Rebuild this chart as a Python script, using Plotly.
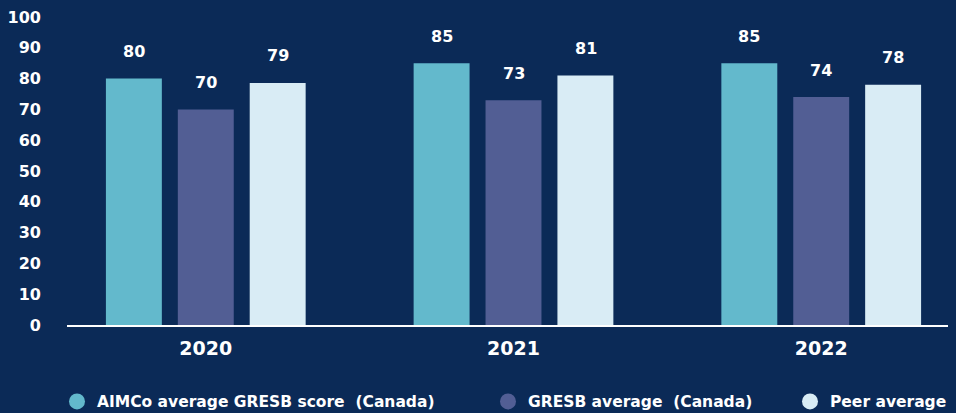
import plotly.graph_objects as go

years = ["2020", "2021", "2022"]
series_names = ["AIMCo average GRESB score  (Canada)", "GRESB average  (Canada)", "Peer average"]
aimco = [80, 85, 85]
gresb = [70, 73, 74]
peer = [78.6, 81, 78]
colors = ["#63B9CC", "#525E94", "#D9ECF5"]

BG = "#0B2A57"
FONT = "DejaVu Sans, Verdana, sans-serif"

fig = go.Figure()
series = [aimco, gresb, peer]
for i, (name, vals) in enumerate(zip(series_names, series)):
    fig.add_trace(go.Bar(
        x=years, y=vals, name=name, marker_color=colors[i], marker_line_width=0,
        showlegend=False,
    ))
    # circle legend entries
    fig.add_trace(go.Scatter(
        x=[None], y=[None], mode="markers", name=name,
        marker=dict(color=colors[i], size=20, symbol="circle"),
        legend=["legend", "legend2", "legend3"][i],
    ))
    # value labels above bars (category index + offset of the bar in its group)
    for j, v in enumerate(vals):
        fig.add_annotation(x=j, y=v, text="%.0f" % v, showarrow=False,
                           xshift=(i - 1) * 72, yshift=27, yanchor="middle",
                           font=dict(color="white", size=16, family=FONT, weight="bold"))

legend_style = dict(orientation="h", yanchor="middle", y=0.027, xref="container", yref="container",
                    font=dict(color="white", size=15.5, family=FONT, weight="bold"),
                    bgcolor="rgba(0,0,0,0)", itemsizing="trace")
fig.update_layout(
    barmode="group", bargap=0.299, bargroupgap=0.222,
    paper_bgcolor=BG, plot_bgcolor=BG,
    width=956, height=413,
    margin=dict(l=66, r=8, t=15, b=88),
    font=dict(family=FONT, color="white"),
    legend=dict(x=57 / 956, **legend_style),
    legend2=dict(x=488 / 956, **legend_style),
    legend3=dict(x=790 / 956, **legend_style),
    xaxis=dict(type="category", range=[-0.451, 2.412], showgrid=False, showline=True,
               linecolor="white", linewidth=2, ticks="",
               tickfont=dict(size=19, color="white", family=FONT, weight="bold"),
               zeroline=False, ticklabelstandoff=5),
    yaxis=dict(range=[0, 100], dtick=10, showgrid=False, zeroline=False, showline=False,
               tickfont=dict(size=16, color="white", family=FONT, weight="bold"),
               ticklabelstandoff=25),
)

fig.write_html("out.html", config={"displayModeBar": False},
               post_script="document.body.style.margin='0';")
